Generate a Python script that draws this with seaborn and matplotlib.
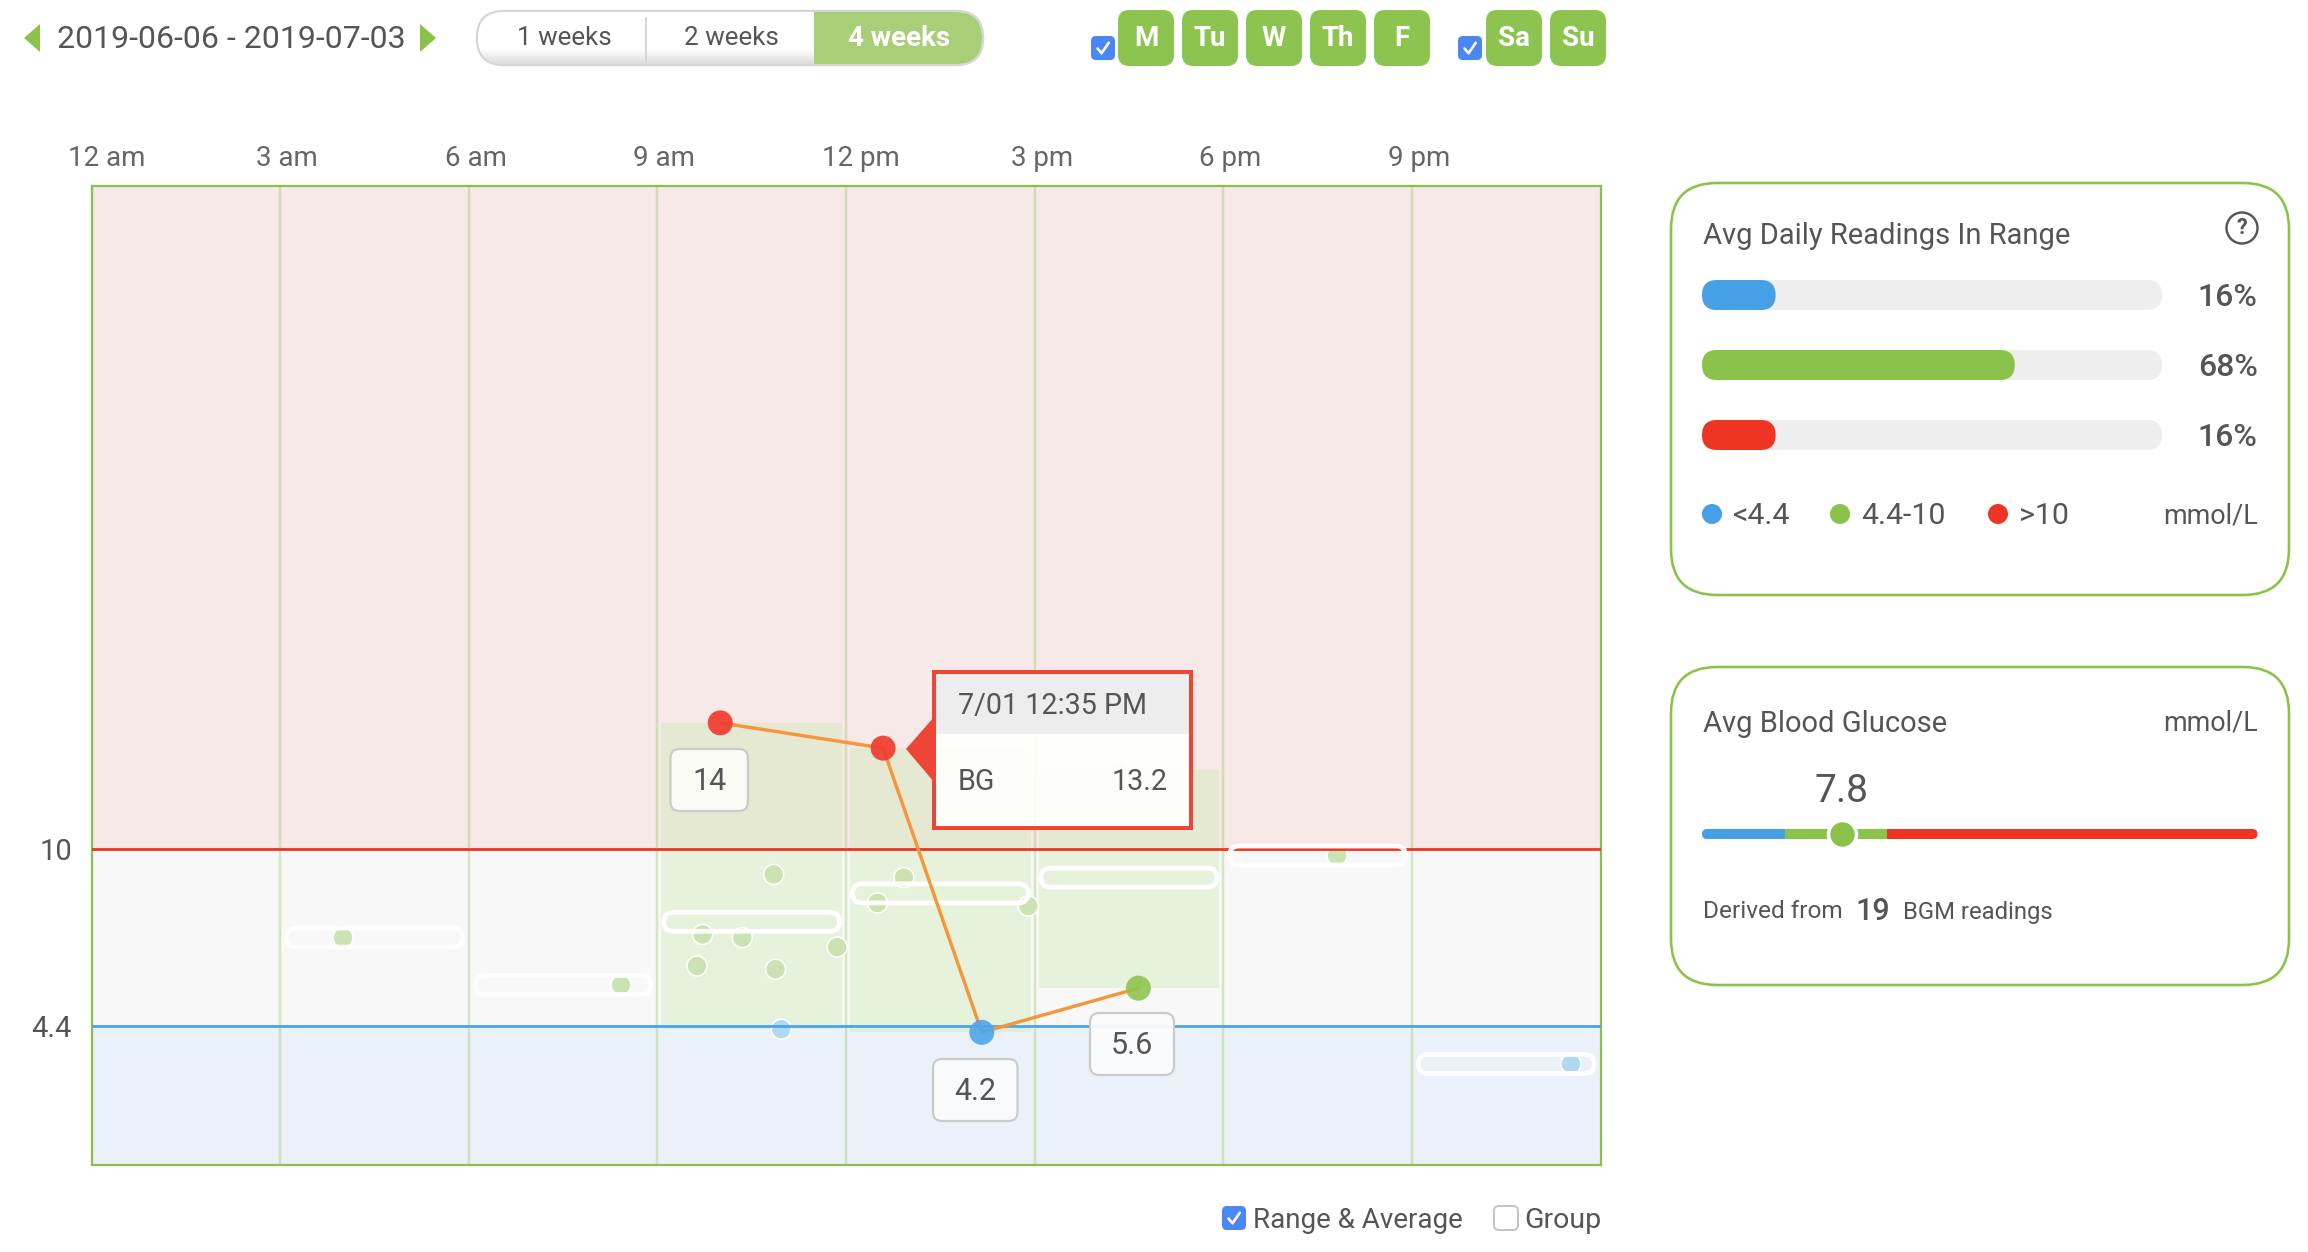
import numpy as np
import pandas as pd
import matplotlib
matplotlib.use("Agg")
import matplotlib.pyplot as plt
from matplotlib.patches import FancyBboxPatch, Circle, Polygon, Rectangle
from matplotlib.transforms import ScaledTranslation
import seaborn as sns

# ---------- data ----------
hour_ticks = [0, 3, 6, 9, 12, 15, 18, 21]
hour_labels = ["12 am", "3 am", "6 am", "9 am", "12 pm", "3 pm", "6 pm", "9 pm"]
range_ticks = [4.4, 10]
range_tick_labels = ["4.4", "10"]

faint_hours = [4.00, 8.42, 9.63, 9.72, 10.35, 10.85, 10.88, 10.97, 11.86,
               12.50, 12.92, 14.90, 16.34, 19.81, 23.53]
faint_values = [7.2, 5.7, 6.3, 7.3, 7.2, 9.2, 6.2, 4.3, 6.9,
                8.3, 9.1, 8.2, 12.5, 9.8, 3.2]
faint_band = ["mid", "mid", "mid", "mid", "mid", "mid", "mid", "low", "mid",
              "mid", "mid", "mid", "high", "mid", "low"]

day_hours = [10.00, 12.59, 14.16, 16.65]
day_values = [14.0, 13.2, 4.2, 5.6]
day_band = ["high", "high", "low", "mid"]
day_labels = ["14", "13.2", "4.2", "5.6"]

bin_starts = [9, 12, 15]
bin_low = [4.3, 4.2, 5.6]
bin_high = [14.0, 13.2, 12.5]

avg_starts = [3, 6, 9, 12, 15, 18, 21]
avg_values = [7.2, 5.7, 7.7, 8.6, 9.1, 9.8, 3.2]

pct_names = ["<4.4", "4.4-10", ">10"]
pct_values = [16, 68, 16]
scale_edges = [0, 4.5, 10, 30]
avg_glucose = 7.8
avg_marker_pos = 7.55
reading_count = 19
days_a = ["M", "Tu", "W", "Th", "F"]
days_b = ["Sa", "Su"]

# ---------- style ----------
W, H = 2308, 1252
sns.set_theme(style="white")
plt.rcParams["font.family"] = ["Roboto", "DejaVu Sans"]
TXT = "#555555"
GREEN = "#8BC34A"
FRAME = "#8BC04F"
BLUE = "#4AA5E8"
RED = "#EE3524"
band_big = {"low": "#4FA6EA", "mid": "#8FC44E", "high": "#F0392B"}
band_faint = {"low": "#B2D7F0", "mid": "#CBE3B2", "high": "#F6C9BF"}

fig = plt.figure(figsize=(W / 100, H / 100), dpi=100, facecolor="white")


def px_axes(x0, y0, x1, y1, z):
    return fig.add_axes([x0 / W, 1 - y1 / H, (x1 - x0) / W, (y1 - y0) / H], zorder=z)


px = 72 / 100  # points per pixel

# ---------- main chart ----------
L, T, R, B = 91.5, 186, 1600.5, 1165
ax = px_axes(L, T, R, B, 1)
ymax = 31.0
ax.set_xlim(0, 24)
ax.set_ylim(0, ymax)
ax.axhspan(0, 4.4, color="#EAF1F8", lw=0, zorder=0)
ax.axhspan(4.4, 10, color="#F8F8F8", lw=0, zorder=0)
ax.axhspan(10, ymax, color="#F7E9E8", lw=0, zorder=0)

ax.set_axisbelow(True)
ax.grid(axis="x", color=GREEN, alpha=0.32, lw=2.5 * px)
ax.grid(axis="y", visible=False)
ax.set_xticks(hour_ticks, hour_labels)
ax.set_yticks(range_ticks, range_tick_labels)
ax.xaxis.tick_top()
ax.tick_params(axis="x", length=0, pad=14 * px, labelsize=20, labelcolor="#666666")
ax.tick_params(axis="y", length=0, pad=19.5 * px, labelsize=21, labelcolor=TXT)
shift = ScaledTranslation(-24 / 100, 0, fig.dpi_scale_trans)
for lab in ax.get_xticklabels():
    lab.set_ha("left")
    lab.set_transform(lab.get_transform() + shift)
for s in ax.spines.values():
    s.set_color(FRAME)
    s.set_linewidth(2.2 * px)
    s.set_visible(True)

# range blocks for each three-hour bin
inset = 4 / ((R - L) / 24)
ax.bar(bin_starts, np.subtract(bin_high, bin_low), bottom=bin_low, width=3 - 2 * inset,
       align="edge", color="#D2EBB8", alpha=0.45, lw=0, zorder=1)
for p in ax.patches[-3:]:
    p.set_x(p.get_x() + inset)

sns.scatterplot(x=faint_hours, y=faint_values, hue=faint_band, palette=band_faint, s=(20 * px) ** 2,
                edgecolor="white", linewidth=1.6 * px, legend=False, ax=ax, zorder=2, clip_on=False)

ax.axhline(10, color=RED, lw=2.8 * px, zorder=3)
ax.axhline(4.4, color=BLUE, lw=2.8 * px, zorder=3)

# white average pills
x_per_px = 24 / (R - L)
y_per_px = ymax / (B - T)
aspect = y_per_px / x_per_px
pill_h = 19 * y_per_px
pill_in = 6.4 * x_per_px
for st, v in zip(avg_starts, avg_values):
    ax.add_patch(FancyBboxPatch((st + pill_in, v - pill_h / 2), 3 - 2 * pill_in, pill_h,
                                boxstyle=f"round,pad=0,rounding_size={9.5 * x_per_px}",
                                mutation_aspect=aspect, fc="none", ec="white",
                                lw=4.8 * px, alpha=0.95, zorder=4))

day = pd.DataFrame({"hour": day_hours, "value": day_values, "band": day_band})
sns.lineplot(data=day, x="hour", y="value", sort=False, estimator=None, color="#F6963A",
             lw=3.4 * px, ax=ax, zorder=5)
sns.scatterplot(data=day, x="hour", y="value", hue="band", palette=band_big, s=(25 * px) ** 2,
                linewidth=0, alpha=0.9, legend=False, ax=ax, zorder=6)
ax.set_xlabel("")
ax.set_ylabel("")

# ---------- page overlay in pixel coordinates ----------
ov = fig.add_axes([0, 0, 1, 1], zorder=5)
ov.set_xlim(0, W)
ov.set_ylim(H, 0)
ov.axis("off")
ov.patch.set_alpha(0)


def text(x, y, s, size=20, color=TXT, ha="left", weight="normal", z=20):
    return ov.text(x, y + 2, s, fontsize=size, color=color, ha=ha, va="center", fontweight=weight, zorder=z)


def rbox(x0, y0, x1, y1, r, fc="none", ec="none", lw=0, alpha=None, z=10):
    p = FancyBboxPatch((x0, y0), x1 - x0, y1 - y0, boxstyle=f"round,pad=0,rounding_size={r}",
                       fc=fc, ec=ec, lw=lw * px, alpha=alpha, zorder=z)
    ov.add_patch(p)
    return p


def checkbox(x0, y0, x1, y1, checked=True):
    if checked:
        rbox(x0, y0, x1, y1, 5, fc="#4A86F5")
        w, h = x1 - x0, y1 - y0
        ov.plot([x0 + .27 * w, x0 + .44 * w, x0 + .74 * w], [y0 + .52 * h, y0 + .72 * h, y0 + .28 * h],
                color="white", lw=2.6 * px, zorder=12, solid_capstyle="round")
    else:
        rbox(x0, y0, x1, y1, 5, fc="white", ec="#C4C4C4", lw=2)


# date selector
ov.add_patch(Polygon([[24, 38], [40, 24], [40, 52]], fc=GREEN, lw=0))
ov.add_patch(Polygon([[436, 38], [420, 24], [420, 52]], fc=GREEN, lw=0))
text(57, 37.5, "2019-06-06 - 2019-07-03", size=23)

# segmented control
seg = rbox(477, 11, 983, 65, 27, fc="white", ec="#D6D6D6", lw=2.5, z=9)
grad = np.linspace(1, 0, 56)[:, None]
grad = np.clip(grad, 0, 0.3) / 0.3
im = ov.imshow(0.84 + 0.16 * grad, cmap="gray", vmin=0, vmax=1, extent=(477, 983, 66, 10), aspect="auto", zorder=9.5)
im.set_clip_path(FancyBboxPatch((478, 12), 504, 52, boxstyle="round,pad=0,rounding_size=26", transform=ov.transData))
ov.set_xlim(0, W)
ov.set_ylim(H, 0)
act = Rectangle((814, 12), 170, 52, fc="#A9CE78", lw=0, zorder=10)
ov.add_patch(act)
act.set_clip_path(FancyBboxPatch((478, 12), 504, 52, boxstyle="round,pad=0,rounding_size=26", transform=ov.transData))
ov.plot([645.5, 645.5], [18, 62], color="#D6D6D6", lw=2 * px, zorder=10)
text(564, 36, "1 weeks", size=18.7, ha="center")
text(731, 36, "2 weeks", size=18.7, ha="center")
text(899.5, 36, "4 weeks", size=20, ha="center", color="white", weight="bold")

# weekday buttons
checkbox(1091, 36, 1115, 60)
for name, x0 in zip(days_a, [1118, 1182, 1246, 1310, 1374]):
    rbox(x0, 10, x0 + 56, 66, 11, fc="#8DC44F")
    text(x0 + 28, 37, name, size=20, ha="center", color="white", weight="bold")
checkbox(1458, 36, 1482, 60)
for name, x0 in zip(days_b, [1486, 1550]):
    rbox(x0, 10, x0 + 56, 66, 11, fc="#8DC44F")
    text(x0 + 28, 37, name, size=20, ha="center", color="white", weight="bold")

# value labels on the selected day
for s, (x0, y0, x1, y1), fc in zip(
        [day_labels[0], day_labels[2], day_labels[3]],
        [(670.5, 749, 748, 811), (933, 1059, 1017.5, 1121), (1090, 1013, 1174, 1075)],
        ["#FBFBF6", "#FAFBFD", "#FBFCFD"]):
    rbox(x0, y0, x1, y1, 9, fc=fc, ec="#C9C9C9", lw=2.2, alpha=0.95)
    text((x0 + x1) / 2, (y0 + y1) / 2, s, size=22, ha="center")

# tooltip
ov.add_patch(Polygon([[906, 749], [934, 717], [934, 782]], fc="#EE4636", lw=0, zorder=13))
ov.add_patch(Rectangle((934, 672), 257, 156, fc="#FFFFFB", alpha=0.96, lw=0, zorder=14))
ov.add_patch(Rectangle((934, 672), 257, 62, fc="#EEEDEE", lw=0, zorder=15))
ov.add_patch(Rectangle((934, 672), 257, 156, fc="none", ec="#EE4636", lw=4 * px, zorder=16))
text(958, 704, "7/01 12:35 PM", size=20.6)
text(958, 780, "BG", size=20.6)
text(1168, 780, day_labels[1], size=20.6, ha="right")

# bottom toggles
checkbox(1222, 1206, 1246, 1230)
text(1253, 1218, "Range & Average", size=20)
checkbox(1494, 1206, 1518, 1230, checked=False)
text(1524, 1218, "Group", size=20.5)

# side panels
rbox(1671, 183, 2289, 595, 46, fc="white", ec=GREEN, lw=2.6, z=2)
rbox(1671, 667, 2289, 985, 46, fc="white", ec=GREEN, lw=2.6, z=2)
text(1703, 234, "Avg Daily Readings In Range", size=21)
ov.add_patch(Circle((2242, 228), 15.5, fc="white", ec="#555555", lw=2.4 * px, zorder=12))
ov.text(2242, 228, "?", fontsize=15.5, color=TXT, ha="center", va="center", fontweight="bold", zorder=20)

for s, y in zip(pct_values, [295, 365, 435]):
    text(2257.5, y, f"{s}%", size=23, ha="right", weight="medium")

for name, col, cx in zip(pct_names, ["#45A0E5", GREEN, RED], [1712, 1840, 1998]):
    ov.add_patch(Circle((cx, 514), 10, fc=col, lw=0, zorder=12))
    text(cx + 21, 514, name, size=21.8)
text(2257.5, 514, "mmol/L", size=19.4, ha="right")

text(1703, 722, "Avg Blood Glucose", size=21)
text(2257.5, 721, "mmol/L", size=19.4, ha="right")
text(1842, 790, f"{avg_glucose}", size=28, ha="center")
text(1703, 910, "Derived from", size=17.6)
text(1855, 909, f"{reading_count}", size=22, weight="medium")
text(1903, 910, "BGM readings", size=17.2)

# percentage bars
bx = px_axes(1702, 260, 2162, 470, 6)
pal = ["#45A0E5", GREEN, RED]
sns.barplot(x=pct_values, y=pct_names, hue=pct_names, palette=pal, width=30 / 70, legend=False,
            ax=bx, saturation=1, orient="h")
bx.set_xlim(0, 100)
bx.axis("off")
bx.patch.set_alpha(0)
bar_aspect = (3 / 210) / (100 / 460)
r_units = 15 * 100 / 460
for bar in list(bx.patches):
    x, y, w, h = bar.get_x(), bar.get_y(), bar.get_width(), bar.get_height()
    col = bar.get_facecolor()
    bar.set_visible(False)
    bx.add_patch(FancyBboxPatch((0, y), 100, h, boxstyle=f"round,pad=0,rounding_size={r_units}",
                                mutation_aspect=bar_aspect, fc="#EEEEEE", lw=0, zorder=2))
    bx.add_patch(FancyBboxPatch((x, y), w, h, boxstyle=f"round,pad=0,rounding_size={r_units}",
                                mutation_aspect=bar_aspect, fc=col, lw=0, zorder=3))

# glucose scale
gx = px_axes(1702, 829, 2257.5, 839, 6)
gx.set_xlim(scale_edges[0], scale_edges[-1])
gx.set_ylim(-0.5, 0.5)
gx.axis("off")
gx.patch.set_alpha(0)
g_aspect = (1 / 10) / (30 / 555.5)
clip = FancyBboxPatch((0, -0.5), 30, 1, boxstyle=f"round,pad=0,rounding_size={5 * 30 / 555.5}",
                      mutation_aspect=g_aspect, transform=gx.transData)
for lo, hi, col in zip(scale_edges[:-1], scale_edges[1:], ["#45A0E5", GREEN, RED]):
    for b in gx.barh(0, hi - lo, left=lo, height=1, color=col, lw=0):
        b.set_clip_path(clip)
sns.scatterplot(x=[avg_marker_pos], y=[0], color=GREEN, s=(28 * px) ** 2, edgecolor="white",
                linewidth=3.5 * px, ax=gx, clip_on=False, legend=False, zorder=5)
gx.set_xlim(scale_edges[0], scale_edges[-1])
gx.set_ylim(-0.5, 0.5)

fig.savefig("out.png", dpi=100)
